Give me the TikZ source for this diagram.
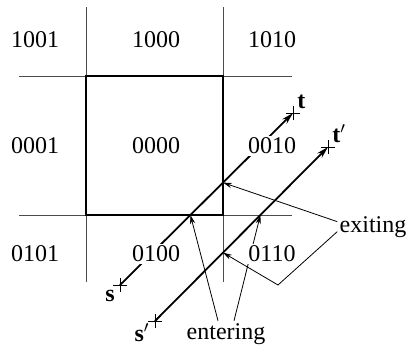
\documentclass[tikz,border=0pt]{standalone}
\usepackage{fontspec}
\setmainfont{Liberation Serif}
\usetikzlibrary{arrows.meta,positioning,shapes.misc,intersections}

\begin{document}
\begin{tikzpicture}[x=0.5pt,y=-0.5pt,every node/.style={font=\fontsize{12}{14}\selectfont},
 grid/.style={line width=0.5pt,black!70},
 win/.style={line width=0.9pt},
 ray/.style={line width=0.9pt,-{Stealth[length=6pt,width=3.2pt]}},
 ptr/.style={line width=0.4pt,-{Stealth[length=4.5pt,width=2.6pt]}},
 pt/.style={draw,cross out,rotate=45,minimum size=4.4pt,inner sep=0pt,line width=0.4pt},
 code/.style={fill=white,inner sep=1pt},
 lbl/.style={inner sep=1pt}]
\useasboundingbox (0,0) rectangle (407,349);
% region boundaries
\draw[grid] (86,7) -- (86,282);
\draw[grid,name path=vr] (223,7) -- (223,282);
\draw[grid] (19,76) -- (292,76);
\draw[grid,name path=hb] (19,215) -- (292,215);
\draw[win] (86,76) rectangle (223,215);
% the two segments
\node[pt] (s) at (120,285) {};
\node[pt] (t) at (293,113) {};
\node[pt] (s2) at (155,321) {};
\node[pt] (t2) at (328,147) {};
\draw[ray,name path=st] (s.center) -- (t.center);
\draw[ray,name path=st2] (s2.center) -- (t2.center);
\path[name intersections={of=st and vr,by=x1}];
\path[name intersections={of=st2 and vr,by=x2}];
\path[name intersections={of=st and hb,by=e1}];
\path[name intersections={of=st2 and hb,by=e2}];
% pointers
\node[lbl,anchor=base] (ex) at (373,232) {exiting};
\node[lbl,anchor=base] (en) at (226,339) {entering};
\coordinate (kink) at (278,285);
\draw[ptr] ([yshift=2.5pt]ex.west) -- (x1);
\draw[ptr] ([yshift=-2.5pt]ex.west) -- (kink) -- (x2);
\draw[ptr] ([xshift=-4pt]en.north) -- (e1);
\draw[ptr] ([xshift=4pt]en.north) -- (e2);
% outcodes
\node[code] (c1001) at (35,40) {1001};
\node[code] (c1000) at (156,40) {1000};
\node[code] (c1010) at (272,40) {1010};
\node[code] (c0001) at (35,146) {0001};
\node[code] (c0000) at (156,146) {0000};
\node[code] (c0010) at (272,146) {0010};
\node[code] (c0101) at (35,254) {0101};
\node[code] (c0100) at (156,254) {0100};
\node[code] (c0110) at (272,254) {0110};
% end points
\node[lbl,anchor=north east] (ls) at (117,288) {\textbf{s}};
\node[lbl,anchor=south west] (lt) at (295,111) {\textbf{t}};
\node[lbl,anchor=north east] (ls2) at (152,321) {\textbf{s}$'$};
\node[lbl,anchor=south west] (lt2) at (330,145) {\textbf{t}$'$};
\end{tikzpicture}
\end{document}
